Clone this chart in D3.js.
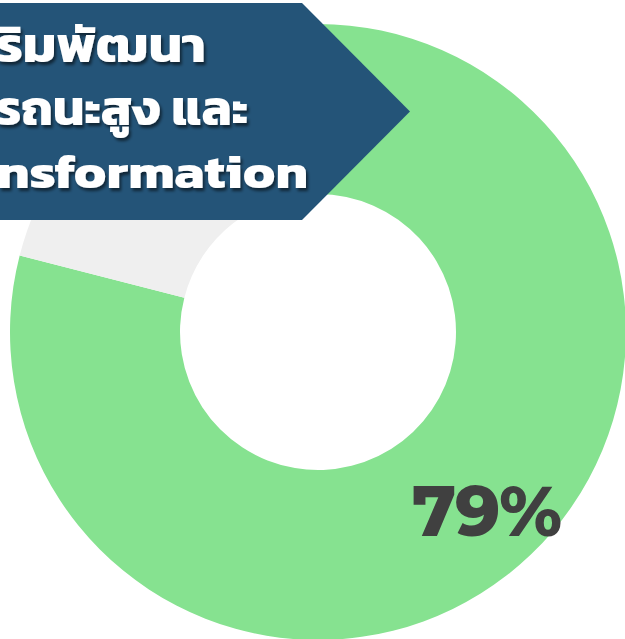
<!DOCTYPE html>
<html><head><meta charset="utf-8">
<script src="https://cdn.jsdelivr.net/npm/d3@7"></script>
<style>html,body{margin:0;padding:0;background:#fff;overflow:hidden}</style>
</head><body>
<svg id="chart" width="625" height="639"></svg>
<script>
const categories = ["Yes", "No"];
const values = [79, 21];
const colors = ["#86E290", "#EFEFEF"];
const valueLabel = "79%";
const titleLines = ["ริมพัฒนา", "รถนะสูง และ", "nsformation"];

const svg = d3.select("#chart");
const cx = 318, cy = 332, outerR = 308, innerR = 138;

const defs = svg.append("defs");
const f = defs.append("filter").attr("id","sh").attr("x","-10%").attr("y","-20%").attr("width","130%").attr("height","150%");
f.append("feDropShadow").attr("dx",2).attr("dy",3).attr("stdDeviation",1.5).attr("flood-color","#000").attr("flood-opacity",0.55);

const pie = d3.pie().sort(null).value(d => d)(values);
const arc = d3.arc().innerRadius(innerR).outerRadius(outerR);
const color = d3.scaleOrdinal().domain(categories).range(colors);

svg.append("g").attr("transform",`translate(${cx},${cy})`)
  .selectAll("path").data(pie).join("path")
  .attr("d", arc).attr("fill", (d,i) => color(categories[i]));

svg.append("text").attr("x", 412).attr("y", 536).attr("text-anchor","start")
  .attr("font-family","Montserrat, 'Open Sans', Lato, sans-serif").attr("font-weight",800)
  .attr("font-size",70).attr("fill","#404040")
  .attr("textLength",150).attr("lengthAdjust","spacing")
  .text(valueLabel);

// banner
const banner = d3.path();
banner.moveTo(-10,3); banner.lineTo(302,3); banner.lineTo(410,111.5); banner.lineTo(302,220); banner.lineTo(-10,220); banner.closePath();
svg.append("path").attr("d", banner.toString()).attr("fill","#245478");

const yLine = d3.scalePoint().domain(d3.range(titleLines.length)).range([62,188]);
const rightX = [206, 248, 308];
const widths = [210, 252, 311];
svg.append("g").attr("filter","url(#sh)")
  .selectAll("text").data(titleLines).join("text")
  .attr("x",(d,i)=>rightX[i]).attr("y",(d,i)=>yLine(i)).attr("text-anchor","end")
  .attr("textLength",(d,i)=>widths[i]).attr("lengthAdjust","spacingAndGlyphs")
  .attr("font-family","Kanit, 'Noto Sans Thai', 'Noto Sans', 'Open Sans', sans-serif").attr("font-weight",700)
  .attr("font-size",48).attr("fill","#fff").text(d=>d);
</script>
</body></html>
